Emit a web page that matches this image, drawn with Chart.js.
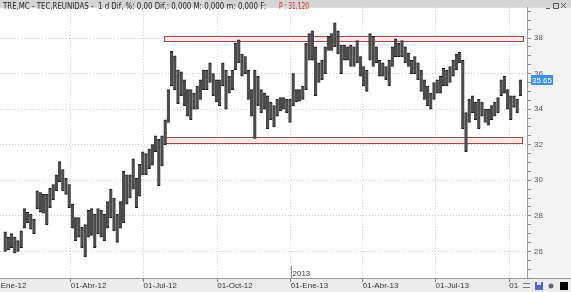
<!DOCTYPE html>
<html>
<head>
<meta charset="utf-8">
<script src="https://cdn.jsdelivr.net/npm/chart.js@4.4.1/dist/chart.umd.min.js"></script>
<style>
  html, body { margin: 0; padding: 0; background: #fff; }
  #wrap { position: relative; width: 571px; height: 292px; }
</style>
</head>
<body>
<div id="wrap"><canvas id="grafico"></canvas></div>
<script>
const primerDia = '2012-01-10';
const pasoDias = 4;

const maximos = [
  27.1, 26.8, 27.0, 26.8, 26.6, 27.15, 28.4, 28.2, 28.1, 27.8,
  29.4, 29.3, 29.2, 29.2, 29.55, 29.75, 30.3, 31.05, 30.6, 30.1,
  29.75, 28.65, 27.9, 27.9, 27.35, 27.5, 28.3, 28.4, 28.1, 28.4,
  28.3, 28.1, 28.8, 29.5, 29.0, 28.1, 28.8, 30.5, 30.3, 30.3,
  31.2, 30.1, 30.9, 31.6, 31.5, 31.75, 32.0, 32.5, 32.3, 32.5,
  33.4, 35.1, 37.25, 37.0, 36.2, 36.1, 35.65, 35.1, 35.1, 34.9,
  35.3, 35.65, 36.2, 36.2, 36.6, 36.0, 35.65, 35.65, 36.6, 36.2,
  35.85, 36.2, 37.7, 37.9, 37.1, 36.95, 36.2, 35.1, 36.2, 35.85,
  35.1, 34.9, 34.75, 34.4, 34.2, 34.55, 34.65, 34.65, 34.55, 34.55,
  36.0, 35.1, 35.1, 35.3, 37.7, 38.25, 38.4, 37.5, 36.6, 36.75,
  37.5, 38.1, 38.25, 38.85, 38.4, 37.6, 37.6, 37.5, 37.6, 37.5,
  37.85, 36.95, 36.4, 36.2, 38.25, 38.1, 37.5, 36.75, 36.6, 36.4,
  36.75, 37.5, 37.95, 37.7, 37.85, 37.5, 37.15, 36.75, 36.95, 36.6,
  36.2, 35.65, 35.3, 34.9, 35.5, 35.65, 35.85, 36.3, 36.2, 36.4,
  36.75, 37.1, 37.2, 36.75, 33.8, 34.55, 34.75, 34.4, 34.55, 34.4,
  34.0, 34.0, 34.2, 34.4, 34.65, 35.65, 35.85, 35.1, 34.75, 34.75,
  34.55, 35.65
];
const minimos = [
  26.0, 26.1, 26.2, 25.9, 26.0, 26.2, 27.3, 27.6, 27.25, 27.0,
  28.4, 28.2, 28.15, 27.5, 28.45, 28.9, 29.4, 29.9, 29.4, 29.2,
  28.45, 27.3, 26.6, 26.8, 26.2, 25.7, 26.8, 26.9, 26.2, 27.0,
  26.8, 26.6, 27.3, 27.9, 27.15, 26.5, 27.3, 27.6, 28.65, 29.0,
  29.5, 28.45, 29.1, 30.3, 30.3, 30.65, 30.85, 31.6, 29.7, 30.8,
  32.0, 33.25, 35.3, 35.1, 34.3, 34.75, 34.2, 33.6, 33.4, 34.0,
  34.0, 34.55, 35.1, 35.1, 35.5, 34.75, 34.4, 34.2, 35.3, 34.0,
  34.9, 35.1, 36.2, 36.6, 35.85, 36.0, 34.55, 33.6, 32.35, 34.2,
  33.8, 34.0, 32.9, 33.4, 33.0, 33.6, 33.9, 34.0, 33.8, 33.25,
  34.2, 34.4, 34.45, 34.55, 35.1, 36.75, 36.75, 34.75, 35.5, 35.65,
  36.0, 37.3, 37.3, 37.5, 37.1, 36.0, 36.75, 36.75, 36.4, 36.4,
  36.6, 35.85, 35.3, 35.0, 36.75, 36.4, 36.6, 35.85, 35.85, 35.65,
  35.3, 36.4, 36.95, 36.95, 36.95, 36.6, 36.4, 36.0, 36.0, 35.65,
  35.0, 34.55, 34.2, 34.0, 34.55, 34.9, 34.9, 35.3, 35.3, 35.5,
  35.85, 36.2, 36.6, 32.9, 31.6, 33.25, 33.8, 33.4, 32.9, 33.6,
  33.25, 33.1, 33.4, 33.6, 33.8, 34.75, 34.9, 34.0, 33.4, 34.1,
  33.8, 34.75
];
const ultimoPrecio = 35.65;

const fechasTrimestre = ['2012-01-01', '2012-04-01', '2012-07-01', '2012-10-01', '2013-01-01', '2013-04-01', '2013-07-01', '2013-10-01'];
const etiquetasTrimestre = ['-Ene-12', '01-Abr-12', '01-Jul-12', '01-Oct-12', '01-Ene-13', '01-Abr-13', '01-Jul-13', '01-Oct-13'];

// zonas de resistencia / soporte
const zonaInicio = ['2012-07-26', '2012-07-26'];
const zonaFin = ['2013-10-18', '2013-10-17'];
const zonaArriba = [38.12, 32.43];
const zonaAbajo = [37.82, 32.12];

const titulo = 'TRE,MC - TEC,REUNIDAS -  1 d Dif, %: 0,00 Dif,: 0,000 M: 0,000 m: 0,000 F:';
const tituloRojo = 'P : 31,120';

function dia(fecha) {
  return (Date.parse(fecha + 'T00:00:00Z') - Date.parse('2012-01-01T00:00:00Z')) / 864e5;
}

const inicio = dia(primerDia);
const barras = maximos.map((hi, i) => ({ x: inicio + i * pasoDias, y: [minimos[i], hi] }));
const diasTrimestre = fechasTrimestre.map(dia);

function esPar(v) { return Math.abs(v - Math.round(v / 2) * 2) < 1e-6; }

const decorado = {
  id: 'decorado',
  beforeDraw(chart) {
    const { ctx, width, height, chartArea: a } = chart;
    ctx.save();
    ctx.fillStyle = '#fff';
    ctx.fillRect(0, 0, width, height);
    ctx.fillStyle = '#f3f3f3';
    ctx.fillRect(a.right, 0, width - a.right, height);
    ctx.fillStyle = '#ececec';
    ctx.fillRect(0, a.bottom, width, height - a.bottom);
    ctx.fillStyle = '#d4d4d4';
    ctx.fillRect(0, 0, width, a.top);
    ctx.strokeStyle = '#9a9a9a';
    ctx.lineWidth = 1;
    ctx.beginPath();
    ctx.moveTo(0, a.bottom + 0.5);
    ctx.lineTo(width, a.bottom + 0.5);
    ctx.stroke();
    ctx.restore();
  },
  beforeDatasetsDraw(chart) {
    const { ctx } = chart;
    const xs = chart.scales.x, ys = chart.scales.y;
    ctx.save();
    zonaArriba.forEach((top, i) => {
      const x1 = Math.round(xs.getPixelForValue(dia(zonaInicio[i]))) + 0.5;
      const x2 = Math.round(xs.getPixelForValue(dia(zonaFin[i]))) + 0.5;
      const y1 = Math.round(ys.getPixelForValue(top)) + 0.5;
      const y2 = Math.round(ys.getPixelForValue(zonaAbajo[i])) + 0.5;
      ctx.fillStyle = '#fbe6e6';
      ctx.fillRect(x1, y1, x2 - x1, y2 - y1);
      ctx.strokeStyle = '#9c4a4a';
      ctx.lineWidth = 1;
      ctx.strokeRect(x1, y1, x2 - x1, y2 - y1);
    });
    ctx.restore();
  },
  afterDraw(chart) {
    const { ctx, width, height, chartArea: a } = chart;
    const xs = chart.scales.x, ys = chart.scales.y;
    ctx.save();

    // etiqueta del ultimo precio
    const yp = ys.getPixelForValue(ultimoPrecio);
    ctx.fillStyle = '#3f8fe0';
    ctx.fillRect(a.right + 4, Math.round(yp) - 5, 22, 10);
    ctx.fillStyle = '#fff';
    ctx.font = '8px "Liberation Sans"';
    ctx.textBaseline = 'middle';
    ctx.textAlign = 'left';
    ctx.fillText(ultimoPrecio.toFixed(2), a.right + 5, Math.round(yp) + 0.5);

    // marca de cambio de año
    const x13 = Math.round(xs.getPixelForValue(dia('2013-01-01'))) + 0.5;
    ctx.strokeStyle = '#888';
    ctx.beginPath();
    ctx.moveTo(x13, a.bottom - 12);
    ctx.lineTo(x13, a.bottom);
    ctx.stroke();
    ctx.fillStyle = '#333';
    ctx.textBaseline = 'alphabetic';
    ctx.fillText('2013', x13 + 1, a.bottom - 2);

    // titulo
    ctx.font = '8px "DejaVu Sans"';
    ctx.fillStyle = '#222';
    const w1 = ctx.measureText(titulo).width;
    ctx.save();
    ctx.translate(3, 9);
    ctx.scale(263 / w1, 1);
    ctx.fillText(titulo, 0, 0);
    ctx.restore();
    ctx.fillStyle = '#e02020';
    const w2 = ctx.measureText(tituloRojo).width;
    ctx.save();
    ctx.translate(279, 9);
    ctx.scale(30 / w2, 1);
    ctx.fillText(tituloRojo, 0, 0);
    ctx.restore();

    // botones de ventana
    ctx.strokeStyle = '#555';
    ctx.beginPath();
    ctx.moveTo(546, 8.5); ctx.lineTo(550, 8.5);
    ctx.rect(553.5, 3.5, 5, 5);
    ctx.moveTo(561, 3); ctx.lineTo(566, 8);
    ctx.moveTo(566, 3); ctx.lineTo(561, 8);
    ctx.stroke();

    // iconos de la barra inferior
    ctx.fillStyle = '#ececec';
    ctx.fillRect(519, a.bottom + 1, width - 519, height - a.bottom - 1);
    ctx.strokeStyle = '#777';
    ctx.beginPath();
    ctx.moveTo(523, 283.5); ctx.lineTo(530, 283.5);
    ctx.moveTo(523, 287.5); ctx.lineTo(530, 287.5);
    ctx.stroke();
    ctx.fillStyle = '#5566cc';
    ctx.fillRect(535, 282, 8, 8);
    ctx.fillStyle = '#dde';
    ctx.fillRect(537, 282, 4, 3);
    ctx.fillStyle = '#666';
    ctx.beginPath();
    ctx.arc(551, 286, 2.5, 0, Math.PI * 2);
    ctx.fill();
    ctx.fillStyle = '#000';
    ctx.fillRect(560, 282, 8, 8);
    ctx.restore();
  }
};

Chart.defaults.font.family = '"Liberation Sans", sans-serif';
Chart.defaults.font.size = 8;

new Chart(document.getElementById('grafico').getContext('2d'), {
  type: 'bar',
  data: {
    datasets: [{
      data: barras,
      backgroundColor: '#4c4c4c',
      borderColor: '#141414',
      borderWidth: { top: 1, bottom: 1, left: 0, right: 0 },
      borderSkipped: false,
      barPercentage: 1,
      categoryPercentage: 1
    }]
  },
  options: {
    responsive: true,
    maintainAspectRatio: false,
    animation: false,
    layout: { padding: { top: 4, left: 0, right: 0, bottom: 0 } },
    plugins: { legend: { display: false }, tooltip: { enabled: false } },
    scales: {
      x: {
        type: 'linear',
        offset: false,
        min: 2.5,
        max: 661.25,
        afterBuildTicks: s => { s.ticks = diasTrimestre.map(v => ({ value: v })); },
        afterFit: s => { s.height = 14; s.paddingLeft = 0; s.paddingRight = 0; },
        ticks: {
          autoSkip: false,
          maxRotation: 0,
          align: 'start',
          padding: -1,
          color: '#333',
          callback: (v, i) => etiquetasTrimestre[i]
        },
        grid: { offset: false, color: '#c4c4c4', tickColor: '#777', tickLength: 4 },
        border: { color: '#9a9a9a', dash: [1, 2] }
      },
      y: {
        position: 'right',
        min: 24.5,
        max: 39.7,
        afterFit: s => { s.width = 44; },
        ticks: {
          stepSize: 0.5,
          autoSkip: false,
          includeBounds: false,
          padding: 3,
          color: '#555',
          callback: v => (esPar(v) ? String(Math.round(v)) : '')
        },
        grid: {
          color: c => (esPar(c.tick.value) ? '#c4c4c4' : 'rgba(0,0,0,0)'),
          tickColor: '#888',
          tickLength: 4
        },
        border: { color: '#9a9a9a', dash: [1, 2] }
      }
    }
  },
  plugins: [decorado]
});
</script>
</body>
</html>
